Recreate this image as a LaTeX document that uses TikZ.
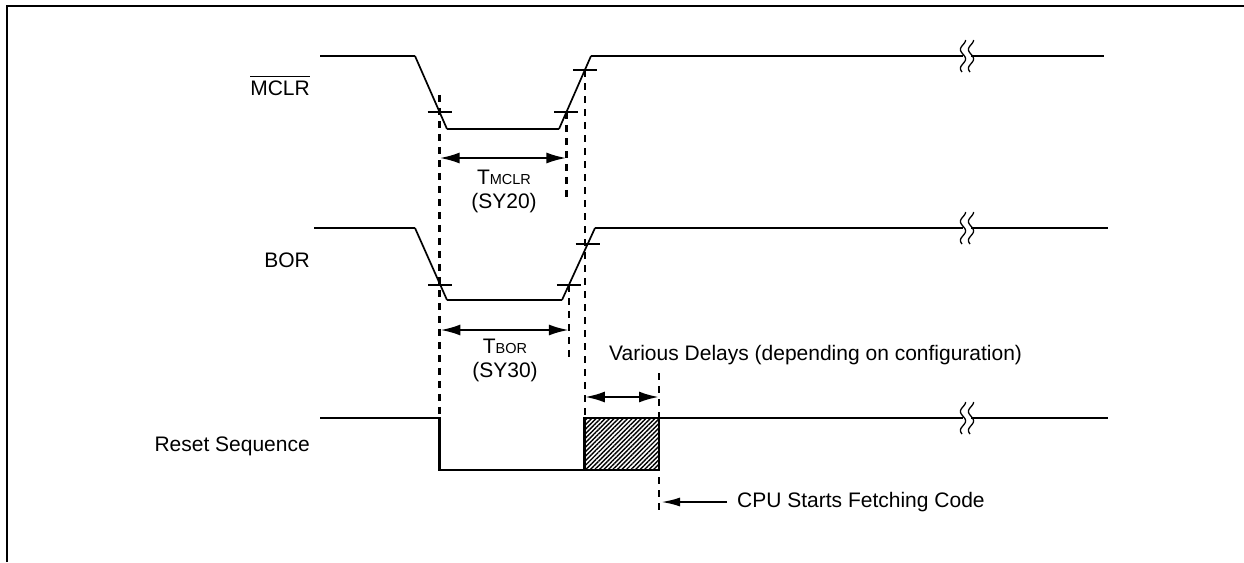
\documentclass[tikz,border=0pt]{standalone}
\usepackage{fontspec}
\setmainfont{Liberation Sans}
\usetikzlibrary{arrows.meta,patterns.meta,calc}

\tikzset{
  sig/.style={line width=2.8pt},
  slope/.style={line width=1.7pt},
  tickmark/.style={line width=1.8pt},
  guide/.style={line width=2.2pt,dash pattern=on 7pt off 6pt},
  span/.style={line width=2.4pt,{Latex[length=20pt,width=11pt]}-{Latex[length=20pt,width=11pt]}},
  lbl/.style={font=\fontsize{21}{24}\selectfont,inner sep=0pt},
}
\newcommand{\smc}[1]{{\fontsize{14.5}{16}\selectfont #1}}
\newcommand{\barred}[1]{\setbox0=\hbox{#1}\rlap{\rule[\dimexpr\ht0+3pt\relax]{\wd0}{1.8pt}}\box0}

\begin{document}
\begin{tikzpicture}[x=1pt,y=-1pt]
\useasboundingbox (0,0) rectangle (1244,562);
\draw[line width=2.6pt] (7,562) -- (7,6) -- (1244,6);

% MCLR
\coordinate (m1) at (415,56); \coordinate (m2) at (447,129);
\coordinate (m3) at (559,129); \coordinate (m4) at (591,56);
\draw[sig] (320,56) -- (m1);
\draw[slope] (m1) -- (m2);
\draw[sig] (m2) -- (m3);
\draw[slope] (m3) -- (m4);
\draw[sig] (m4) -- (963,56);
\draw[sig] (971,56) -- (1104,56);
\coordinate (mc1) at ($(m1)!0.767!(m2)$);
\coordinate (mc2) at ($(m3)!0.233!(m4)$);
\coordinate (mc3) at ($(m3)!0.808!(m4)$);

% BOR
\coordinate (b1) at (415,228); \coordinate (b2) at (447,300);
\coordinate (b3) at (562,300); \coordinate (b4) at (595,228);
\draw[sig] (314,228) -- (b1);
\draw[slope] (b1) -- (b2);
\draw[sig] (b2) -- (b3);
\draw[slope] (b3) -- (b4);
\draw[sig] (b4) -- (963,228);
\draw[sig] (971,228) -- (1108,228);
\coordinate (bc1) at ($(b1)!0.79!(b2)$);
\coordinate (bc2) at ($(b3)!0.21!(b4)$);
\coordinate (bc3) at ($(b3)!0.78!(b4)$);

\foreach \c in {mc1,mc2,mc3,bc1,bc2,bc3}
  \draw[tickmark] ([xshift=-12pt]\c) -- ([xshift=12pt]\c);

% Reset Sequence
\coordinate (r1) at (mc1 |- 0,418); \coordinate (r2) at (mc1 |- 0,470);
\coordinate (r3) at (mc3 |- 0,470); \coordinate (r4) at (659,418);
\draw[sig] (320,418) -- (r1) -- (r2) -- (r3);
\draw[sig,pattern={Lines[angle=45,distance=3.2pt,line width=1.4pt]}] (r3) rectangle (r4);
\draw[sig] (r4) -- (963,418);
\draw[sig] (971,418) -- (1108,418);

% breaks
\foreach \yy in {56,228,418}
  \foreach \xx in {963,971}
    \draw[line width=1.3pt,variable=\t,domain=-16:16,samples=25,smooth]
      plot ({\xx+2.6*cos(19*(\t+16))},{\yy+\t});

% guides
\draw[guide] ($(mc1)+(0,-17)$) -- (r1);
\draw[guide] (mc2) -- (mc2 |- 0,200);
\draw[guide] (mc3) -- (mc3 |- 0,418);
\draw[guide] (bc2) -- (bc2 |- 0,360);
\coordinate (fetch) at (659,502);
\draw[guide] (659,373) -- (659,515);

% spans
\draw[span] (mc1 |- 0,158) -- (mc2 |- 0,158);
\draw[span] (bc1 |- 0,330) -- (bc2 |- 0,330);
\draw[span] (mc3 |- 0,397) -- (659,397);

% labels
\node[lbl,anchor=base east] (mclr) at (310,95) {\barred{MCLR}};
\node[lbl,anchor=base east] (bor) at (310,267) {BOR};
\node[lbl,anchor=base east] (rst) at (310,451) {Reset Sequence};
\node[lbl,align=center] (tmclr) at (504,191) {T\smc{MCLR}\\(SY20)};
\node[lbl,align=center] (tbor) at (505,360) {T\smc{BOR}\\(SY30)};
\node[lbl,anchor=base west] (delays) at (609,360) {Various Delays (depending on configuration)};
\node[lbl,anchor=west] (cpu) at (737,502) {CPU Starts Fetching Code};
\draw[line width=2.2pt,-{Latex[length=19pt,width=9pt]}] ([xshift=-10pt]cpu.west) -- ([xshift=2pt]fetch);
\end{tikzpicture}
\end{document}
